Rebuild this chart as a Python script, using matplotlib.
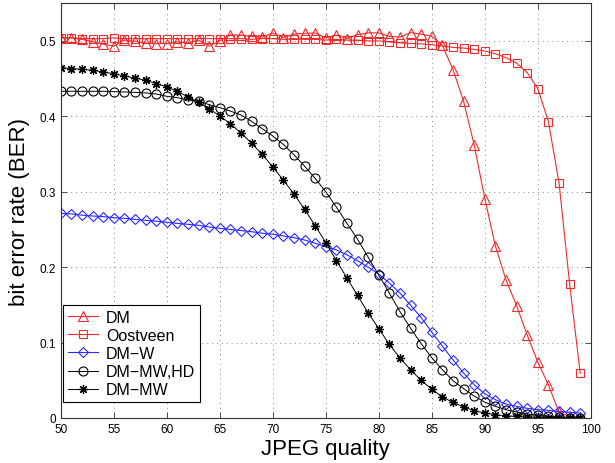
import matplotlib
matplotlib.use('Agg')
import matplotlib.pyplot as plt
import numpy as np

plt.rcParams['font.family'] = ['Liberation Sans', 'DejaVu Sans']

quality = list(range(50, 100))

dm = [0.5044, 0.504, 0.502, 0.499, 0.4956, 0.493, 0.501, 0.4996, 0.497, 0.4965,
      0.4965, 0.4987, 0.4973, 0.501, 0.493, 0.500, 0.508, 0.5075, 0.506, 0.5049,
      0.5106, 0.5044, 0.509, 0.510, 0.5106, 0.504, 0.5075, 0.503, 0.5084, 0.5106,
      0.5106, 0.506, 0.505, 0.511, 0.509, 0.506, 0.494, 0.462, 0.420, 0.362,
      0.291, 0.228, 0.183, 0.149, 0.110, 0.074, 0.044, 0.0075, 0.002, 0.001]

oostveen = [0.504, 0.504, 0.503, 0.503, 0.503, 0.504, 0.503, 0.503, 0.503, 0.503,
            0.503, 0.503, 0.503, 0.503, 0.503, 0.503, 0.503, 0.503, 0.502, 0.503,
            0.503, 0.502, 0.503, 0.502, 0.502, 0.501, 0.502, 0.501, 0.501, 0.500,
            0.500, 0.4985, 0.4975, 0.4966, 0.496, 0.495, 0.4932, 0.4914, 0.4905, 0.4887,
            0.4866, 0.483, 0.4777, 0.4706, 0.458, 0.4367, 0.393, 0.312, 0.178, 0.059]

dm_w = [0.2714, 0.2705, 0.269, 0.2678, 0.267, 0.2656, 0.2648, 0.2634, 0.262, 0.261,
        0.2595, 0.258, 0.2568, 0.2555, 0.2533, 0.2515, 0.250, 0.2485, 0.247, 0.245,
        0.2436, 0.2414, 0.239, 0.236, 0.2317, 0.2273, 0.2229, 0.2163, 0.2085, 0.2000,
        0.1907, 0.1790, 0.1655, 0.1495, 0.1330, 0.1140, 0.0953, 0.0770, 0.0595, 0.044,
        0.032, 0.0242, 0.0185, 0.0154, 0.0128, 0.011, 0.0101, 0.0088, 0.0075, 0.0066]

dm_mw_hd = [0.4332, 0.4332, 0.4332, 0.4332, 0.4332, 0.4327, 0.4323, 0.4318, 0.431, 0.4296,
            0.4265, 0.4248, 0.4217, 0.4199, 0.4155, 0.4115, 0.407, 0.4018, 0.3934, 0.3836,
            0.3739, 0.3628, 0.3490, 0.334, 0.3176, 0.300, 0.2797, 0.2581, 0.237, 0.2132,
            0.1895, 0.1656, 0.141, 0.119, 0.0985, 0.080, 0.064, 0.0495, 0.039, 0.029,
            0.021, 0.0154, 0.011, 0.008, 0.0053, 0.0035, 0.0022, 0.0013, 0.0005, 0.0002]

dm_mw = [0.4646, 0.4633, 0.4624, 0.461, 0.4588, 0.4566, 0.4535, 0.4509, 0.4478, 0.4434,
         0.439, 0.4332, 0.4257, 0.419, 0.4102, 0.4004, 0.3903, 0.3779, 0.3646, 0.3494,
         0.333, 0.3154, 0.297, 0.2767, 0.2551, 0.2326, 0.2088, 0.1855, 0.1625, 0.1393,
         0.1185, 0.0975, 0.0797, 0.0639, 0.0498, 0.0383, 0.0278, 0.0207, 0.0145, 0.0097,
         0.0066, 0.0044, 0.003, 0.002, 0.0013, 0.001, 0.0006, 0.0004, 0.0003, 0.0002]

red = '#f02a2a'
blue = '#2a2aff'

fig = plt.figure(figsize=(6.15, 4.64), dpi=100)
ax = fig.add_axes([0.0987, 0.097, 0.862, 0.894])

# matlab-ish asterisk: 8 spokes
star = (8, 2, 0)

ax.plot(quality, dm, '-', marker='^', color=red, mfc='none', ms=7.5, lw=0.8, mew=0.8, label='DM')
ax.plot(quality, oostveen, '-', marker='s', color=red, mfc='none', ms=5.5, lw=0.8, mew=0.8, label='Oostveen')
ax.plot(quality, dm_w, '-', marker='D', color=blue, mfc='none', ms=5.5, lw=0.8, mew=0.8, label='DM\u2212W')
ax.plot(quality, dm_mw_hd, '-', marker='o', color='black', mfc='none', ms=6.5, lw=0.7, mew=0.8, label='DM\u2212MW,HD')
ax.plot(quality, dm_mw, '-', marker=star, color='black', ms=6.5, lw=0.7, mew=0.9, label='DM\u2212MW')

ax.set_xlim(50, 100)
ax.set_ylim(0, 0.55)
ax.set_xticks(np.arange(50, 101, 5))
ax.set_yticks([0, 0.1, 0.2, 0.3, 0.4, 0.5])
ax.set_yticklabels(['0', '0.1', '0.2', '0.3', '0.4', '0.5'])
ax.tick_params(direction='in', top=True, right=True, labelsize=8.5, length=4, width=0.6, color='#333333')
ax.grid(True, linestyle=(0, (1, 4)), color='#888888', linewidth=0.7)
for s in ax.spines.values():
    s.set_color('#333333')
    s.set_linewidth(0.8)

ax.set_xlabel('JPEG quality', fontsize=16, labelpad=2)
ax.set_ylabel('bit error rate (BER)', fontsize=16, labelpad=7)

leg = ax.legend(loc='lower left', bbox_to_anchor=(0.004, 0.038), fontsize=11.5,
                frameon=True, fancybox=False, edgecolor='black', framealpha=1,
                borderpad=0.3, labelspacing=0.2, handlelength=1.9, handletextpad=0.5,
                borderaxespad=0)
leg.get_frame().set_linewidth(0.8)

fig.savefig('out.png', dpi=100)
